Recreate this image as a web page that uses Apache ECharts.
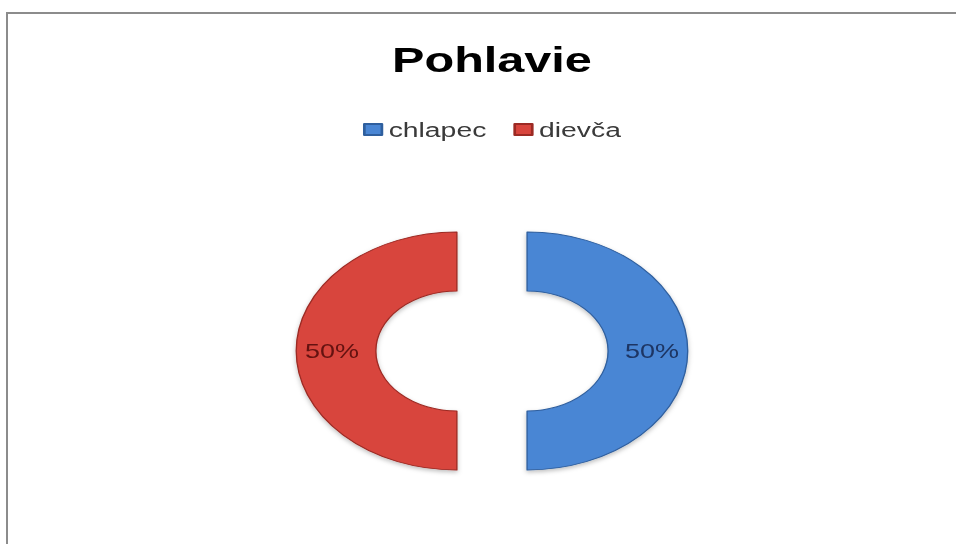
<!DOCTYPE html>
<html lang="sk">
<head>
    <meta charset="UTF-8" />
    <title>Pohlavie</title>
    <script src="https://cdn.jsdelivr.net/npm/echarts@6/dist/echarts.min.js"></script>
</head>

<style>
    body {
        margin: 0;
        background: #fff;
        overflow: hidden;
    }

    #frame {
        position: absolute;
        left: 6px;
        top: 12px;
        width: 970px;
        height: 545px;
        border-left: 2px solid #8c8c8c;
        border-top: 2px solid #8c8c8c;
    }

    /* Excel picture is stretched sideways, so the ring is an ellipse */
    #main {
        width: 717px;
        height: 530px;
        transform: scaleX(1.35);
        transform-origin: 0 0;
    }
</style>

<body>
    <div id="frame">
        <div id="main"></div>
    </div>
</body>
<script type="text/javascript">

    var categories = ['chlapec', 'dievča'];
    var values = [50, 50];
    var mainColors = ['#4a86d4', '#d8453d'];
    var edgeColors = ['#2f5f9e', '#9c2a24'];
    var labelColors = ['#1d3563', '#641210'];

    var pieData = categories.map(function (name, i) {
        return {
            name: name,
            value: values[i],
            selected: true,
            itemStyle: {
                color: mainColors[i],
                borderColor: edgeColors[i],
                borderWidth: 1,
                shadowColor: 'rgba(0,0,0,0.25)',
                shadowBlur: 4,
                shadowOffsetY: 2
            },
            label: { color: labelColors[i] }
        };
    });

    var chart = echarts.init(document.getElementById('main'), null, { renderer: 'svg' });
    chart.setOption({
        animation: false,
        color: mainColors,
        title: {
            text: 'Pohlavie',
            left: 'center',
            top: 27,
            padding: 0,
            textStyle: {
                fontFamily: 'Liberation Sans',
                fontWeight: 'bold',
                fontSize: 36,
                color: '#000'
            }
        },
        legend: {
            data: categories,
            left: 'center',
            top: 105,
            padding: 0,
            itemWidth: 13,
            itemHeight: 11,
            itemGap: 20,
            icon: 'rect',
            selectedMode: false,
            textStyle: {
                fontFamily: 'Liberation Sans',
                fontSize: 21,
                color: '#3a3a3a'
            }
        },
        series: [{
            name: 'Pohlavie',
            type: 'pie',
            center: ['50%', 337],
            radius: [60, 119],
            startAngle: 90,
            clockwise: true,
            selectedMode: 'multiple',
            selectedOffset: 26,
            emphasis: { disabled: true },
            label: {
                show: true,
                position: 'inside',
                formatter: '{d}%',
                fontFamily: 'Liberation Sans',
                fontSize: 20
            },
            labelLine: { show: false },
            data: pieData
        }]
    });
</script>

</html>
